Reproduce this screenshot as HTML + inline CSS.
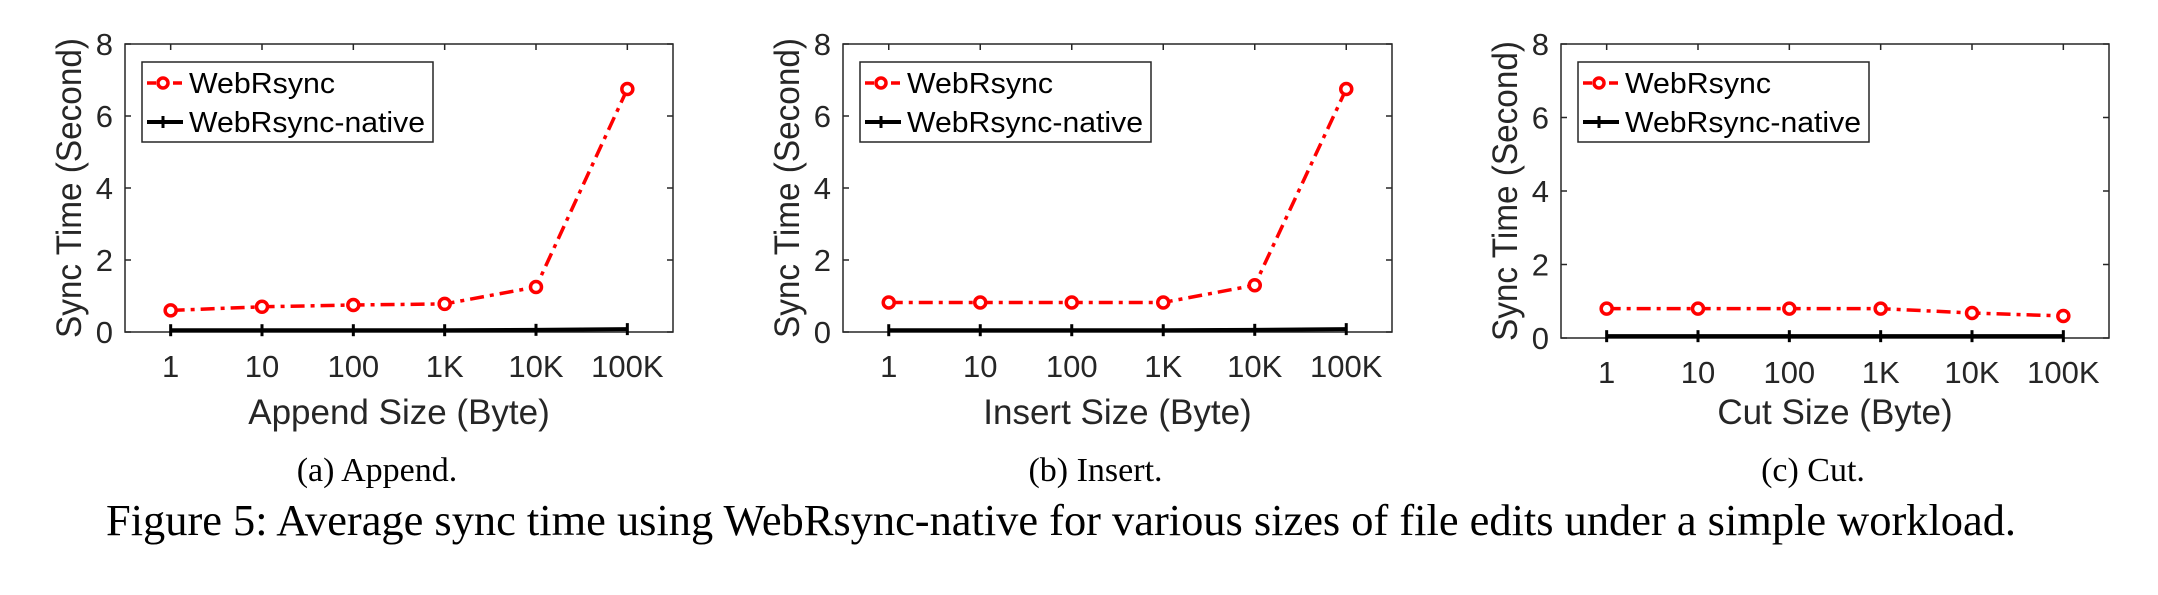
<!DOCTYPE html>
<html><head><meta charset="utf-8"><style>
html,body{margin:0;padding:0;background:#fff;}
svg{display:block;}
.t{font-family:"Liberation Sans",Arial,sans-serif;fill:#262626;}
.s{font-family:"Liberation Serif","Times New Roman",serif;fill:#000;}
</style></head><body>
<svg width="2158" height="595" viewBox="0 0 2158 595" xmlns="http://www.w3.org/2000/svg">
<g id="plots"></g>
<text class="s" x="106" y="535" font-size="44" textLength="1910" lengthAdjust="spacingAndGlyphs">Figure 5: Average sync time using WebRsync-native for various sizes of file edits under a simple workload.</text>
</svg>
<script>
const P=[
 {l:125,r:673,t:44,b:332,xl:"Append Size (Byte)",cap:"(a) Append.",d:[0.6,0.7,0.75,0.78,1.25,6.75],n:[0.05,0.05,0.05,0.05,0.06,0.08]},
 {l:843,r:1392,t:44,b:332,xl:"Insert Size (Byte)",cap:"(b) Insert.",d:[0.82,0.82,0.82,0.82,1.3,6.75],n:[0.05,0.05,0.05,0.05,0.06,0.08]},
 {l:1561,r:2109,t:44,b:338,xl:"Cut Size (Byte)",cap:"(c) Cut.",d:[0.8,0.8,0.8,0.8,0.68,0.6],n:[0.05,0.05,0.05,0.05,0.05,0.05]}
];
const labs=["1","10","100","1K","10K","100K"];
let h="";
for(const p of P){
 const w=p.r-p.l,H=p.b-p.t,sp=w/6;
 const X=i=>p.l+sp*(i+0.5), Y=v=>p.b-v*H/8;
 h+=`<rect x="${p.l}" y="${p.t}" width="${w}" height="${H}" fill="#fff" stroke="#262626" stroke-width="1.5"/>`;
 for(let i=0;i<6;i++){const x=X(i);
  h+=`<line x1="${x}" y1="${p.b}" x2="${x}" y2="${p.b-6}" stroke="#262626" stroke-width="1.5"/><line x1="${x}" y1="${p.t}" x2="${x}" y2="${p.t+6}" stroke="#262626" stroke-width="1.5"/>`;
  h+=`<text class="t" x="${x}" y="${p.b+45}" font-size="31" text-anchor="middle">${labs[i]}</text>`;}
 for(let v=0;v<=8;v+=2){const y=Y(v);
  h+=`<line x1="${p.l}" y1="${y}" x2="${p.l+6}" y2="${y}" stroke="#262626" stroke-width="1.5"/><line x1="${p.r}" y1="${y}" x2="${p.r-6}" y2="${y}" stroke="#262626" stroke-width="1.5"/>`;
  h+=`<text class="t" x="${p.l-12}" y="${y+11}" font-size="31" text-anchor="end">${v}</text>`;}
 const cx=(p.l+p.r)/2;
 h+=`<text class="t" x="${cx}" y="424" font-size="35" text-anchor="middle">${p.xl}</text>`;
 h+=`<text class="t" transform="translate(${p.l-44},${(p.t+p.b)/2}) rotate(-90)" font-size="35" text-anchor="middle" textLength="300" lengthAdjust="spacingAndGlyphs">Sync Time (Second)</text>`;
 h+=`<text class="s" x="${cx-22}" y="481" font-size="34" text-anchor="middle">${p.cap}</text>`;
 let pts=p.n.map((v,i)=>`${X(i)},${Y(v)}`).join(" ");
 h+=`<polyline points="${pts}" fill="none" stroke="#000" stroke-width="4"/>`;
 p.n.forEach((v,i)=>{h+=`<line x1="${X(i)}" y1="${Y(v)-6}" x2="${X(i)}" y2="${Y(v)+6}" stroke="#000" stroke-width="3"/>`;});
 pts=p.d.map((v,i)=>`${X(i)},${Y(v)}`).join(" ");
 h+=`<polyline points="${pts}" fill="none" stroke="#f00" stroke-width="3.5" stroke-dasharray="14,6,4,6"/>`;
 p.d.forEach((v,i)=>{h+=`<circle cx="${X(i)}" cy="${Y(v)}" r="5.5" fill="#fff" stroke="#f00" stroke-width="3.5"/>`;});
 const lx=p.l+17,ly=62;
 h+=`<rect x="${lx}" y="${ly}" width="291" height="80" fill="#fff" stroke="#262626" stroke-width="1.5"/>`;
 h+=`<line x1="${lx+5}" y1="83" x2="${lx+41}" y2="83" stroke="#f00" stroke-width="3.5" stroke-dasharray="9,4"/><circle cx="${lx+21}" cy="83" r="5" fill="#fff" stroke="#f00" stroke-width="3.5"/>`;
 h+=`<text x="${lx+47}" y="93" font-size="29" font-family="Liberation Sans, Arial, sans-serif" fill="#000" textLength="146" lengthAdjust="spacingAndGlyphs">WebRsync</text>`;
 h+=`<line x1="${lx+5}" y1="122" x2="${lx+41}" y2="122" stroke="#000" stroke-width="4"/><line x1="${lx+21}" y1="116" x2="${lx+21}" y2="128" stroke="#000" stroke-width="3"/>`;
 h+=`<text x="${lx+47}" y="132" font-size="29" font-family="Liberation Sans, Arial, sans-serif" fill="#000" textLength="236" lengthAdjust="spacingAndGlyphs">WebRsync-native</text>`;
}
document.getElementById("plots").innerHTML=h;
</script>
</body></html>
